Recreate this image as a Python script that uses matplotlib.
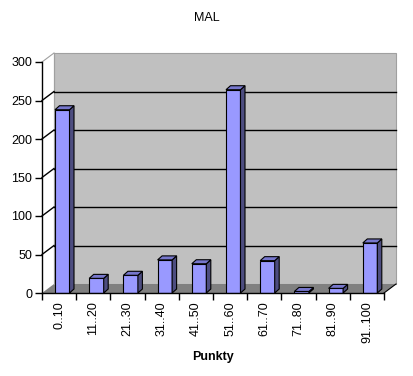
import numpy as np
import matplotlib
matplotlib.use("Agg")
import matplotlib.pyplot as plt
from matplotlib.patches import Polygon

# ── data ─────────────────────────────────────────────
categories = ["0..10", "11..20", "21..30", "31..40", "41..50",
              "51..60", "61..70", "71..80", "81..90", "91..100"]
counts = [238, 19, 23, 43, 38, 264, 42, 2, 6, 65]
yticks = [0, 50, 100, 150, 200, 250, 300]

plt.rcParams["font.family"] = ["Liberation Sans", "DejaVu Sans"]

W, H = 414, 376
fig = plt.figure(figsize=(W / 100, H / 100), dpi=100)
ax = fig.add_axes([42 / W, (H - 293) / H, 342 / W, 231 / H])
n = len(categories)
ymax = 300
ax.set_xlim(0, n)
ax.set_ylim(0, ymax)

# pixel -> data conversions
px_x = n / 342.0
px_y = ymax / 231.0
dx, dy = 12 * px_x, 9 * px_y          # wall depth
bdx, bdy = 4.5 * px_x, 4 * px_y       # bar depth

# walls and floor
back = Polygon([(dx, dy), (n + dx, dy), (n + dx, ymax + dy), (dx, ymax + dy)],
               closed=True, facecolor="#C0C0C0", edgecolor="#A0A0A0", lw=0.8,
               clip_on=False, zorder=0)
ax.add_patch(back)
floor = Polygon([(0, 0), (n, 0), (n + dx, dy), (dx, dy)], closed=True,
                facecolor="#808080", edgecolor="none", clip_on=False, zorder=0.5)
ax.add_patch(floor)
ax.plot([n, n + dx], [0, dy], color="black", lw=0.8, clip_on=False, zorder=1)
ax.plot([0, dx], [ymax, ymax + dy], color="#A0A0A0", lw=0.8, clip_on=False, zorder=1)
ax.plot([dx, dx], [dy, ymax + dy], color="#A0A0A0", lw=0.8, clip_on=False, zorder=1)

for v in yticks[1:-1]:
    ax.plot([dx, n + dx], [v + dy, v + dy], color="black", lw=1, clip_on=False, zorder=1)
    ax.plot([0, dx], [v, v + dy], color="black", lw=1, clip_on=False, zorder=1)

# bars
w = 14.5 * px_x
lefts = np.arange(n) + 13 * px_x
ax.bar(lefts, counts, width=w, align="edge", color="#9999FF",
       edgecolor="black", linewidth=0.8, zorder=3)
for x0, v in zip(lefts, counts):
    x1 = x0 + w
    top = Polygon([(x0, v), (x1, v), (x1 + bdx, v + bdy), (x0 + bdx, v + bdy)],
                  closed=True, facecolor="#7777CC", edgecolor="black", lw=0.8,
                  clip_on=False, zorder=3)
    side = Polygon([(x1, 0), (x1 + bdx, bdy), (x1 + bdx, v + bdy), (x1, v)],
                   closed=True, facecolor="#4D4D80", edgecolor="black", lw=0.8,
                   clip_on=False, zorder=3)
    ax.add_patch(side)
    ax.add_patch(top)

# axes
for s in ["top", "right"]:
    ax.spines[s].set_visible(False)
for s in ["left", "bottom"]:
    ax.spines[s].set_color("black")
    ax.spines[s].set_linewidth(1)
    ax.spines[s].set_zorder(4)
ax.set_facecolor("none")
ax.set_yticks(yticks)
ax.tick_params(axis="y", direction="out", length=5, width=1, pad=2, labelsize=9)
ax.set_xticks(np.arange(n + 1))
ax.set_xticklabels([])
ax.tick_params(axis="x", which="major", direction="out", length=5, width=1)
ax.set_xticks(np.arange(n) + 0.5, minor=True)
ax.set_xticklabels(categories, minor=True, rotation=90, fontsize=9)
ax.tick_params(axis="x", which="minor", length=0, pad=6)

fig.text(0.5, 1 - 18 / H, "MAL", ha="center", va="center", fontsize=9)
fig.text(213 / W, 1 - 357 / H, "Punkty", ha="center", va="center",
         fontsize=9, fontweight="bold")

fig.savefig("out.png", dpi=100, facecolor="white")
